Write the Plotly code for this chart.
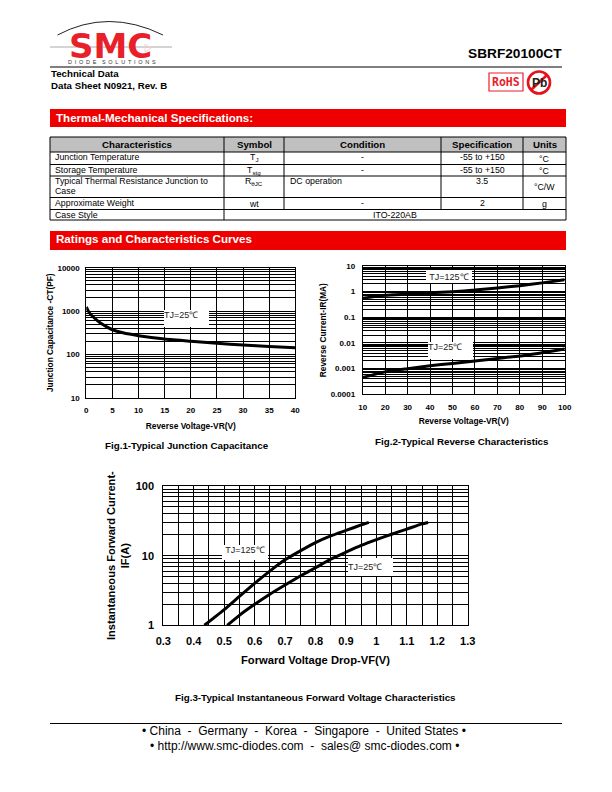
import plotly.graph_objects as go

# ---- data ----
fig1_vr = [0, 0.5, 1, 2, 3, 4, 5, 7, 10, 15, 20, 25, 30, 35, 40]
fig1_ct = [1250, 950, 800, 620, 500, 425, 370, 315, 270, 225, 200, 180, 165, 152, 143]
fig1_yticks = [10, 100, 1000, 10000]
fig1_ylabels = ["10", "100", "1000", "10000"]

fig2_vr = [10, 20, 30, 40, 50, 60, 70, 80, 90, 100]
fig2_ir_125 = [0.55, 0.72, 0.80, 0.90, 1.0, 1.15, 1.4, 1.7, 2.2, 2.9]
fig2_ir_25 = [0.00045, 0.00075, 0.001, 0.0013, 0.0016, 0.002, 0.0025, 0.0031, 0.0042, 0.0058]
fig2_yticks = [0.0001, 0.001, 0.01, 0.1, 1, 10]
fig2_ylabels = ["0.0001", "0.001", "0.01", "0.1", "1", "10"]

fig3_vf_125 = [0.435, 0.5, 0.55, 0.6, 0.65, 0.7, 0.75, 0.8, 0.85, 0.9, 0.95, 0.975]
fig3_if_125 = [1, 1.68, 2.6, 4.0, 6.0, 8.7, 11.7, 15.4, 19.2, 23.0, 27.6, 30]
fig3_vf_25 = [0.51, 0.55, 0.6, 0.65, 0.7, 0.75, 0.8, 0.85, 0.9, 0.95, 1.0, 1.05, 1.1, 1.15, 1.17]
fig3_if_25 = [1, 1.39, 2.0, 2.8, 3.8, 5.1, 6.7, 8.9, 11.2, 14.0, 17.0, 20.3, 24, 28.6, 30]
fig3_yticks = [1, 10, 100]
fig3_ylabels = ["1", "10", "100"]
fig3_xticks = [0.3, 0.4, 0.5, 0.6, 0.7, 0.8, 0.9, 1, 1.1, 1.2, 1.3]

table_header = ["Characteristics", "Symbol", "Condition", "Specification", "Units"]
table_rows = [
    ["Junction Temperature", "T<sub>J</sub>", "-", "-55 to +150", "°C"],
    ["Storage Temperature", "T<sub>stg</sub>", "-", "-55 to +150", "°C"],
    ["Typical Thermal Resistance Junction to", "R<sub>θJC</sub>", "DC operation", "3.5", "°C/W"],
    ["Approximate Weight", "wt", "-", "2", "g"],
]
row3_wrap = "Case"
case_style = ["Case Style", "ITO-220AB"]

W, H = 612, 792
M = 8  # page body margin
ARIAL = "Liberation Sans, Arial, sans-serif"
px = lambda x: (x - M) / (W - 2 * M)
py = lambda y: 1 - (y - M) / (H - 2 * M)

shapes = []
ann = []


def text(x, y, s, size=9, bold=False, color="black", anchor="center", vanchor="middle", font=ARIAL, **kw):
    ann.append(dict(x=px(x), y=py(y), xref="paper", yref="paper", text=f"<b>{s}</b>" if bold else s,
                    showarrow=False, xanchor=anchor, yanchor=vanchor, borderpad=0, borderwidth=0,
                    font=dict(family=font, size=size, color=color), **kw))


def rect(x0, y0, x1, y1, fill=None, line=None, lw=1):
    shapes.append(dict(type="rect", xref="paper", yref="paper", x0=px(x0), x1=px(x1), y0=py(y0), y1=py(y1),
                       fillcolor=fill or "rgba(0,0,0,0)",
                       line=dict(color=line or "rgba(0,0,0,0)", width=lw if line else 0), layer="below"))


def hline(x0, x1, y, color="black", lw=1):
    shapes.append(dict(type="line", xref="paper", yref="paper", x0=px(x0), x1=px(x1), y0=py(y), y1=py(y),
                       line=dict(color=color, width=lw), layer="below"))


def vline(x, y0, y1, color="black", lw=1):
    shapes.append(dict(type="line", xref="paper", yref="paper", x0=px(x), x1=px(x), y0=py(y0), y1=py(y1),
                       line=dict(color=color, width=lw), layer="below"))


def path(d, color=None, fill=None, lw=1, layer="above"):
    shapes.append(dict(type="path", xref="paper", yref="paper", path=d, layer=layer,
                       fillcolor=fill or "rgba(0,0,0,0)",
                       line=dict(color=color or "rgba(0,0,0,0)", width=lw if color else 0)))


# ---- header ----
hline(50, 172, 47, color="#aaaaaa", lw=1)
mid = lambda x, y: f"{px(x)},{py(y)}"
path(f"M {mid(57.5, 35)} Q {mid(108, 8)} {mid(163, 35)}", color="#222222", lw=1)
text(110.5, 45.5, "SMC", size=34, bold=True, color="#e8202a", font="DejaVu Sans, sans-serif")
text(111.5, 62, "\u2002".join("DIODE") + "\u2002\u2002" + "\u2002".join("SOLUTIONS"), size=5.5, color="#333333")
path(f"M {mid(145, 44)} L {mid(145, 52)} L {mid(151, 48)} Z", color="#f8c8c8", lw=0.8)
text(562, 53, "SBRF20100CT", size=13.7, bold=True, anchor="right")
hline(50, 562, 67, lw=1)
text(50.5, 73.5, "Technical Data", size=9.7, bold=True, anchor="left")
text(50.5, 85.5, "Data Sheet N0921, Rev. B", size=9.7, bold=True, anchor="left")
rect(489, 73, 523, 91, line="#e8202a", lw=1.2)
text(506, 82, "RoHS", size=11.5, bold=True, color="#e8202a", font="DejaVu Sans Mono, monospace")
text(539, 82.5, "Pb", size=12, bold=True, color="#222222")
shapes.append(dict(type="circle", xref="paper", yref="paper", x0=px(528), x1=px(550), y0=py(93.5), y1=py(71.5),
                   line=dict(color="#e8101a", width=2.6)))
shapes.append(dict(type="line", xref="paper", yref="paper", x0=px(531), x1=px(547), y0=py(90), y1=py(75),
                   line=dict(color="#e8101a", width=2.6)))

# ---- red bands ----
rect(50, 109, 566, 127, fill="#ee0000")
text(55.5, 118, "Thermal-Mechanical Specifications:", size=11.6, bold=True, color="white", anchor="left")
rect(50, 231, 566, 250, fill="#ee0000")
text(55.5, 238.5, "Ratings and Characteristics Curves", size=11.6, bold=True, color="white", anchor="left")

# ---- table ----
cols = [50, 224, 284, 441, 523, 566]
rows = [137, 152, 164.5, 176, 197.5, 209.5, 220]
rect(cols[0], rows[0], cols[-1], rows[1], fill="#c0c0c0", line="black")
for c in cols[1:-1]:
    vline(c, rows[0], rows[1])
for i, h in enumerate(table_header):
    text((cols[i] + cols[i + 1]) / 2, (rows[0] + rows[1]) / 2 + 0.3, h, size=9.7, bold=True)
for y in rows[2:]:
    hline(cols[0], cols[-1], y)
vline(cols[0], rows[1], rows[-1])
vline(cols[-1], rows[1], rows[-1])
for c in cols[1:-1]:
    vline(c, rows[1], rows[-2])
vline(cols[1], rows[-2], rows[-1])
for r, row in enumerate(table_rows):
    top, bot = rows[r + 1], rows[r + 2]
    tm = top + 5
    text(55, tm, row[0], size=8.8, anchor="left")
    text((cols[1] + cols[2]) / 2, tm + 1, row[1], size=8.8)
    if row[2] == "-":
        text((cols[2] + cols[3]) / 2, tm, row[2], size=8.8)
    else:
        text(290, tm, row[2], size=8.8, anchor="left")
    text((cols[3] + cols[4]) / 2, tm, row[3], size=8.8)
    text((cols[4] + cols[5]) / 2, (top + bot) / 2 + 0.5, row[4], size=8.8)
text(55, rows[3] + 15, row3_wrap, size=8.8, anchor="left")
text(55, (rows[-2] + rows[-1]) / 2, case_style[0], size=8.8, anchor="left")
text((cols[1] + cols[-1]) / 2, (rows[-2] + rows[-1]) / 2, case_style[1], size=8.8)

# ---- footer ----
hline(50, 562, 723.5)
text(304, 731.3, "• China  -  Germany  -  Korea  -  Singapore  -  United States •", size=12)
text(304, 746, "• http://www.smc-diodes.com  -  sales@ smc-diodes.com •", size=12)

# ---- figure captions ----
text(186.5, 445, "Fig.1-Typical Junction Capacitance", size=9.8, bold=True)
text(461.5, 441, "Fig.2-Typical Reverse Characteristics", size=9.8, bold=True)
text(315, 697.5, "Fig.3-Typical Instantaneous Forward Voltage Characteristics", size=9.8, bold=True)


# ---- in-chart labels ----
def box(cx, cy, w, h, s, size=9, **kw):
    text(cx, cy, s, size=size, color="#222222", bgcolor="white", width=w, height=h, **kw)


box(186.5, 318.3, 45, 17, "TJ=25℃", align="left", valign="top")
box(449, 276.5, 46, 13, "TJ=125℃")
box(450.5, 350, 45, 17, "TJ=25℃", align="left", valign="top")
box(245, 552.5, 46, 15, "TJ=125℃", valign="top")
box(370.5, 567, 45, 18, "TJ=25℃", align="left")

fig = go.Figure()
line = dict(color="black", width=3, shape="spline", smoothing=0.5)
fig.add_trace(go.Scatter(x=fig1_vr, y=fig1_ct, mode="lines", line=line, xaxis="x", yaxis="y",
                         name="TJ=25℃", showlegend=False))
fig.add_trace(go.Scatter(x=fig2_vr, y=fig2_ir_125, mode="lines", line=line, xaxis="x2", yaxis="y2",
                         name="TJ=125℃", showlegend=False))
fig.add_trace(go.Scatter(x=fig2_vr, y=fig2_ir_25, mode="lines", line=line, xaxis="x2", yaxis="y2",
                         name="TJ=25℃", showlegend=False))
fig.add_trace(go.Scatter(x=fig3_vf_125, y=fig3_if_125, mode="lines", line=line, xaxis="x3", yaxis="y3",
                         name="TJ=125℃", showlegend=False))
fig.add_trace(go.Scatter(x=fig3_vf_25, y=fig3_if_25, mode="lines", line=line, xaxis="x3", yaxis="y3",
                         name="TJ=25℃", showlegend=False))


def xax(dom, rng, dtick, title, size, tsize, standoff, lab, minor=None, anchor="y"):
    d = dict(domain=[px(dom[0]), px(dom[1])], range=rng, dtick=dtick, tick0=rng[0], anchor=anchor,
             automargin=False,
             showgrid=True, gridcolor="black", gridwidth=1, showline=True, linecolor="black", linewidth=1,
             mirror=True, zeroline=False, ticks="", ticklabelstandoff=lab,
             tickfont=dict(family=ARIAL, size=size, color="black", weight=700),
             title=dict(text=f"<b>{title}</b>", font=dict(family=ARIAL, size=tsize, color="black"), standoff=standoff))
    if minor:
        d["minor"] = dict(dtick=minor, showgrid=True, gridcolor="black", gridwidth=1, ticks="")
    return d


def yax(dom, rng, ticks, labels, title, size, tsize, standoff, lab, anchor="x"):
    return dict(domain=[py(dom[1]), py(dom[0])], type="log", range=rng, anchor=anchor, automargin=False,
                tickmode="array", tickvals=ticks, ticktext=labels, ticklabelstandoff=lab,
                showgrid=True, gridcolor="black", gridwidth=1,
                showline=True, linecolor="black", linewidth=1, mirror=True, zeroline=False, ticks="",
                minor=dict(dtick="D1", showgrid=True, gridcolor="black", gridwidth=1, ticks=""),
                tickfont=dict(family=ARIAL, size=size, color="black", weight=700),
                title=dict(text=f"<b>{title}</b>", font=dict(family=ARIAL, size=tsize, color="black"),
                           standoff=standoff))


x3 = xax((163.3, 467.7), [0.3, 1.3], 0.1, "Forward Voltage Drop-VF(V)", 11, 11.2, 10, 5, minor=0.05, anchor="y3")
x3.pop("dtick"), x3.pop("tick0")
x3.update(tickmode="array", tickvals=fig3_xticks, ticktext=[str(v) for v in fig3_xticks])

fig.update_layout(
    width=W - 2 * M, height=H - 2 * M, margin=dict(l=0, r=0, t=0, b=0), paper_bgcolor="white", plot_bgcolor="white",
    showlegend=False, shapes=shapes, annotations=ann,
    xaxis=xax((86.3, 295.3), [0, 40], 5, "Reverse Voltage-VR(V)", 8, 8.4, 8, 5),
    yaxis=yax((267.7, 397.7), [1, 4], fig1_yticks, fig1_ylabels, "Junction Capacitance -CT(PF)", 8, 8.35, 2, 4),
    xaxis2=xax((362.7, 564.7), [10, 100], 10, "Reverse Voltage-VR(V)", 8, 8.4, 7, 5, anchor="y2"),
    yaxis2=yax((266, 394.3), [-4, 1], fig2_yticks, fig2_ylabels, "Reverse Current-IR(MA)", 8, 8.3, 2, 5, anchor="x2"),
    xaxis3=x3,
    yaxis3=yax((486, 625.3), [0, 2], fig3_yticks, fig3_ylabels, "Instantaneous Forward Current-<br>IF(A)", 11, 11.1, 3, 6, anchor="x3"),
)
fig.write_html("out.html", config=dict(displayModeBar=False))
